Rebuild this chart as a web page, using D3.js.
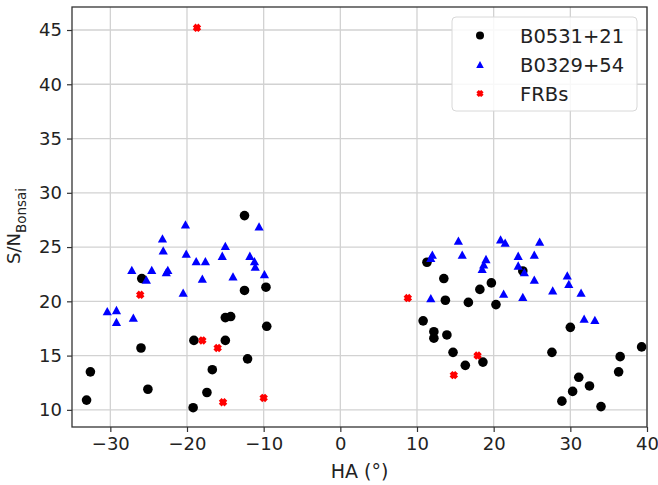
<!DOCTYPE html>
<html><head><meta charset="utf-8">
<script src="https://cdn.jsdelivr.net/npm/d3@7"></script>
<style>
body{margin:0;background:#fff}
svg{display:block;font-family:"DejaVu Sans",sans-serif}
</style>
</head><body>
<svg id="c" width="658" height="485"></svg>
<script>
// ---- data ----
const crabHA = [-12.5,-25.9,-12.5,-9.7,-15.0,-14.3,-9.6,-19.1,-15.0,-26.0,-12.1,-32.6,-16.7,-25.1,-17.4,-33.1,-19.2,
  11.3,13.5,23.8,19.7,18.2,13.7,16.7,20.3,10.8,12.2,12.2,13.9,30.0,14.7,16.3,18.6,27.6,39.3,36.5,36.3,31.1,32.5,30.3,28.9,34.0];
const crabSN = [27.9,22.1,21.0,21.3,18.5,18.6,17.7,16.4,16.4,15.7,14.7,13.5,13.7,11.9,11.6,10.9,10.2,
  23.6,22.1,22.8,21.7,21.1,20.1,19.9,19.7,18.2,17.2,16.6,16.9,17.6,15.3,14.1,14.4,15.3,15.8,14.9,13.5,13.0,12.2,11.7,10.8,10.3];
const b0329HA = [-20.2,-10.6,-23.2,-15.0,-23.1,-20.1,-15.4,-11.8,-18.8,-17.6,-11.2,-11.1,-27.2,-24.6,-22.5,-22.7,-25.3,-18.0,-14.0,-9.9,-20.5,-30.4,-29.2,-29.2,-27.0,
  15.4,20.9,21.5,26.0,12.0,11.8,15.9,19.0,23.2,25.3,18.7,18.5,23.2,24.0,25.3,29.6,29.8,27.7,31.4,21.3,23.8,11.8,31.8,33.2];
const b0329SN = [27.1,26.9,25.8,25.1,24.7,24.4,24.2,24.2,23.7,23.7,23.7,23.2,22.9,22.9,22.9,22.7,22.0,22.1,22.3,22.5,20.8,19.1,19.2,18.1,18.5,
  25.6,25.7,25.4,25.5,24.3,24.0,24.3,23.9,24.2,24.3,23.4,23.0,23.3,22.7,22.0,22.4,21.6,21.0,20.8,20.7,20.4,20.3,18.4,18.3];
const frbHA = [-18.7,-26.1,-18.0,-16.0,-15.3,-10.0,8.8,17.9,14.8];
const frbSN = [45.2,20.6,16.4,15.7,10.7,11.1,20.3,15.0,13.2];
const xTicks = [-30,-20,-10,0,10,20,30,40];
const yTicks = [10,15,20,25,30,35,40,45];
const seriesNames = ["B0531+21","B0329+54","FRBs"];
const seriesColors = ["#000000","#0000ff","#ff0000"];
const xLabel = "HA (°)";
const yLabelMain = "S/N";
const yLabelSub = "Bonsai";

// ---- layout ----
const W = 658, H = 485;
const L = 72, R = 647, T = 7, B = 427;
const svg = d3.select("#c");
const x = d3.scaleLinear().domain([-35, 40]).range([L, R]);
const y = d3.scaleLinear().domain([8.42, 47.12]).range([B, T]);
const textColor = "#222";

// grid
const g = svg.append("g");
g.selectAll("line.gx").data(xTicks).join("line")
  .attr("x1", d => x(d)).attr("x2", d => x(d)).attr("y1", T).attr("y2", B)
  .attr("stroke", "#d2d2d2").attr("stroke-width", 1.3);
g.selectAll("line.gy").data(yTicks).join("line")
  .attr("y1", d => y(d)).attr("y2", d => y(d)).attr("x1", L).attr("x2", R)
  .attr("stroke", "#d2d2d2").attr("stroke-width", 1.3);

// axes
const xAxis = svg.append("g").attr("transform", `translate(0,${B})`)
  .call(d3.axisBottom(x).tickValues(xTicks).tickSize(5).tickPadding(5));
const yAxis = svg.append("g").attr("transform", `translate(${L},0)`)
  .call(d3.axisLeft(y).tickValues(yTicks).tickSize(5).tickPadding(5));
[xAxis, yAxis].forEach(a => {
  a.select(".domain").remove();
  a.selectAll(".tick line").attr("stroke", "#333").attr("stroke-width", 1.2);
  a.selectAll(".tick text").attr("fill", textColor).style("font-size", "18px").style("font-family", "DejaVu Sans");
});

// marker shapes
function triPath(s) { // s = half width
  const h = s * 0.9;
  return `M0,${-h}L${s},${h}L${-s},${h}Z`;
}
function xPath(s) { // filled X, s = scale
  const pts = [[-1,-2],[-1,-1],[-2,-1],[-2,1],[-1,1],[-1,2],[1,2],[1,1],[2,1],[2,-1],[1,-1],[1,-2]];
  const c = Math.SQRT1_2;
  return "M" + pts.map(([a,b]) => {
    const u = (a - b) * c * s / 2, v = (a + b) * c * s / 2;
    return u.toFixed(2) + "," + v.toFixed(2);
  }).join("L") + "Z";
}

const plot = svg.append("g");
// B0531+21
plot.selectAll("circle.crab").data(d3.zip(crabHA, crabSN)).join("circle")
  .attr("cx", d => x(d[0])).attr("cy", d => y(d[1])).attr("r", 4.8)
  .attr("fill", seriesColors[0]);
// B0329+54
plot.selectAll("path.b0329").data(d3.zip(b0329HA, b0329SN)).join("path")
  .attr("d", triPath(4.6))
  .attr("transform", d => `translate(${x(d[0])},${y(d[1])})`)
  .attr("fill", seriesColors[1]);
// FRBs
plot.selectAll("path.frb").data(d3.zip(frbHA, frbSN)).join("path")
  .attr("d", xPath(4.0))
  .attr("transform", d => `translate(${x(d[0])},${y(d[1])})`)
  .attr("fill", seriesColors[2]);

// frame
svg.append("rect").attr("x", L).attr("y", T).attr("width", R - L).attr("height", B - T)
  .attr("fill", "none").attr("stroke", "#333").attr("stroke-width", 1.3);

// legend
const lg = svg.append("g");
lg.append("rect").attr("x", 452).attr("y", 17).attr("width", 185).attr("height", 94).attr("rx", 4)
  .attr("fill", "#fff").attr("fill-opacity", 0.85).attr("stroke", "#d8d8d8").attr("stroke-width", 1);
const rowsY = [35.5, 64.5, 93.5];
seriesNames.forEach((name, i) => {
  const cy = rowsY[i];
  if (i === 0) lg.append("circle").attr("cx", 480).attr("cy", cy).attr("r", 4).attr("fill", seriesColors[0]);
  if (i === 1) lg.append("path").attr("d", triPath(3.8)).attr("transform", `translate(480,${cy})`).attr("fill", seriesColors[1]);
  if (i === 2) lg.append("path").attr("d", xPath(3.4)).attr("transform", `translate(480,${cy})`).attr("fill", seriesColors[2]);
  lg.append("text").attr("x", 520).attr("y", cy).attr("dy", "0.36em")
    .attr("fill", textColor).style("font-size", "19.5px").text(name);
});

// axis labels
svg.append("text").attr("x", (L + R) / 2).attr("y", 478).attr("text-anchor", "middle")
  .attr("fill", textColor).style("font-size", "19px").text(xLabel);
const yl = svg.append("text").attr("transform", "translate(20,226) rotate(-90)")
  .attr("text-anchor", "middle").attr("fill", textColor);
yl.append("tspan").style("font-size", "18px").text(yLabelMain);
yl.append("tspan").style("font-size", "13.5px").attr("dy", 6).text(yLabelSub);
</script>
</body></html>
